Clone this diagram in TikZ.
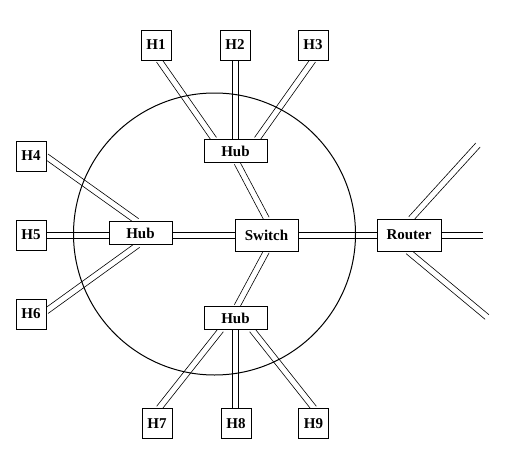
\documentclass[tikz,border=0pt]{standalone}
\usepackage{fontspec}
\setmainfont{Liberation Serif}
\usetikzlibrary{calc}
\newcommand\dlink[2]{%
  \draw[lk] ($(#1)!3pt!90:(#2)$) -- ($(#2)!3pt!-90:(#1)$);
  \draw[lk] ($(#1)!3pt!-90:(#2)$) -- ($(#2)!3pt!90:(#1)$);}
\begin{document}
\begin{tikzpicture}[x=1pt,y=-1pt,
  box/.style={draw,fill=white,line width=0.7pt,inner sep=0pt,font=\fontsize{15}{15}\selectfont\bfseries},
  host/.style={box,minimum width=30pt,minimum height=30pt},
  hub/.style={box,minimum width=63pt,minimum height=23pt},
  dev/.style={box,minimum width=63pt,minimum height=32pt},
  lk/.style={line width=0.6pt}]
\useasboundingbox (0,0) rectangle (527,455);
% node positions
\node[host] (h1) at (156,45) {H1};
\node[host] (h2) at (235,45) {H2};
\node[host] (h3) at (313,45) {H3};
\node[host] (h4) at (31,156) {H4};
\node[host] (h5) at (31,235) {H5};
\node[host] (h6) at (31,314) {H6};
\node[host] (h7) at (157,423.5) {H7};
\node[host] (h8) at (236,423.5) {H8};
\node[host] (h9) at (313.5,423.5) {H9};
\node[hub] (hubT) at (235.5,151) {Hub};
\node[hub] (hubL) at (140.5,233) {Hub};
\node[hub] (hubB) at (235.5,318) {Hub};
\node[dev] (sw) at (266.5,235) {Switch};
\node[dev,minimum width=64pt] (rt) at (409,235) {Router};
\coordinate (outE) at (483,235);
\coordinate (outNE) at (478,145);
\coordinate (outSE) at (487,317);
% link end points
\coordinate (a1) at ($(h1.south)+(3,0)$);
\coordinate (b1) at ($(hubT.north)+(-21.5,0)$);
\coordinate (a2) at (h2.south);
\coordinate (b2) at (hubT.north -| h2.south);
\coordinate (a3) at (h3.south);
\coordinate (b3) at ($(hubT.north)+(21.5,0)$);
\coordinate (a4) at ($(hubT.south)+(1.5,0)$);
\coordinate (b4) at (sw.north);
\coordinate (a5) at ($(h4.east)+(0,0.5)$);
\coordinate (b5) at ($(hubL.north)+(-3.5,0)$);
\coordinate (a6) at ($(h5.east)+(0,0.3)$);
\coordinate (b6) at ($(hubL.west)+(0,2.3)$);
\coordinate (a7) at ($(h6.east)+(0,-3)$);
\coordinate (b7) at ($(hubL.south)+(-2.5,0)$);
\coordinate (a8) at ($(hubL.east)+(0,2.3)$);
\coordinate (b8) at ($(sw.west)+(0,0.3)$);
\coordinate (a9) at ($(rt.north)+(2,0)$);
\coordinate (a10) at ($(rt.south)+(-1,0)$);
\coordinate (a11) at (sw.south);
\coordinate (b11) at ($(hubB.north)+(1.5,0)$);
\coordinate (a12) at ($(hubB.south)+(-14.5,0)$);
\coordinate (b12) at ($(h7.north)+(2,0)$);
\coordinate (a13) at (hubB.south);
\coordinate (b13) at (hubB.south |- h8.north);
\coordinate (a14) at ($(hubB.south)+(16.5,0)$);
\coordinate (b14) at ($(h9.north)+(0.5,0)$);
% links
\dlink{a1}{b1}
\dlink{a2}{b2}
\dlink{a3}{b3}
\dlink{a4}{b4}
\dlink{a5}{b5}
\dlink{a6}{b6}
\dlink{a7}{b7}
\dlink{a8}{b8}
\dlink{sw.east}{rt.west}
\dlink{rt.east}{outE}
\dlink{a9}{outNE}
\dlink{a10}{outSE}
\dlink{a11}{b11}
\dlink{a12}{b12}
\dlink{a13}{b13}
\dlink{a14}{b14}
% circle
\draw[line width=1pt] (214.5,234) circle[radius=141];
% nodes drawn again on top of the links
\node[host] at (h1) {H1};
\node[host] at (h2) {H2};
\node[host] at (h3) {H3};
\node[host] at (h4) {H4};
\node[host] at (h5) {H5};
\node[host] at (h6) {H6};
\node[host] at (h7) {H7};
\node[host] at (h8) {H8};
\node[host] at (h9) {H9};
\node[hub] at (hubT) {Hub};
\node[hub] at (hubL) {Hub};
\node[hub] at (hubB) {Hub};
\node[dev] at (sw) {Switch};
\node[dev,minimum width=64pt] at (rt) {Router};
\end{tikzpicture}
\end{document}
